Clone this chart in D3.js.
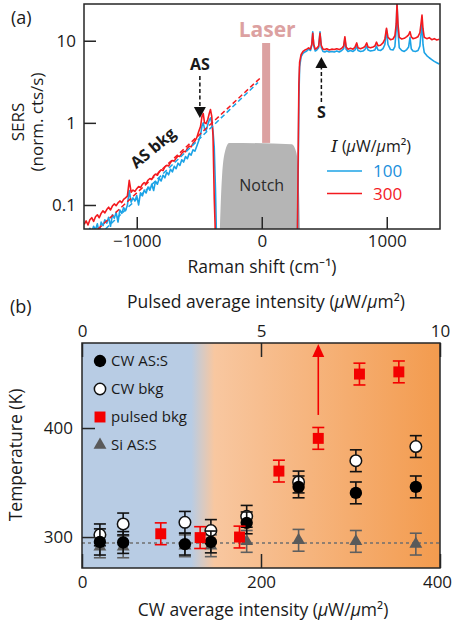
<!DOCTYPE html>
<html lang="en">
<head>
<meta charset="UTF-8">
<script src="https://d3js.org/d3.v7.min.js"></script>
<title>SERS temperature</title>
<style>
    body { margin: 0; background: #fff; }
    svg text { font-family: "Open Sans", sans-serif; fill: #1a1a1a; }
</style>
</head>
<body>
<div id="app"></div>
<script>
// ---------- panel (a): spectra ----------
const asShift = [-1420,-1405,-1390,-1375,-1360,-1345,-1330,-1315,-1300,-1285,-1270,-1255,-1240,-1225,-1210,-1195,-1180,-1165,-1150,-1135,
    -1120,-1105,-1090,-1075,-1060,-1045,-1030,-1015,-1000,-985,-970,-955,-940,-925,-910,-895,-880,-865,-850,-835,
    -820,-805,-790,-775,-760,-745,-730,-715,-700,-685,-670,-655,-640,-625,-610,-595,-580,-565,-550,-535,
    -520,-505,-490,-478,-468,-458,-445,-432,-420,-410,-400,-390,-380,-370,-362];
const asRed = [0.058,0.064,0.057,0.066,0.070,0.063,0.072,0.076,0.070,0.079,0.085,0.080,0.088,0.094,0.087,0.097,0.103,0.098,0.106,0.112,
    0.107,0.117,0.122,0.128,0.200,0.143,0.152,0.146,0.158,0.168,0.163,0.178,0.187,0.182,0.200,0.210,0.205,0.226,0.238,0.230,
    0.255,0.268,0.262,0.290,0.305,0.298,0.330,0.348,0.342,0.372,0.396,0.390,0.426,0.450,0.444,0.490,0.520,0.510,0.560,0.600,
    0.660,0.780,0.90,1.20,1.30,1.00,0.98,1.10,1.30,1.45,1.20,0.70,0.12,0.04,0.03];
const asBlue = [0.042,0.046,0.044,0.052,0.047,0.055,0.050,0.059,0.045,0.062,0.056,0.066,0.060,0.071,0.055,0.076,0.069,0.081,0.062,0.087,
    0.079,0.093,0.085,0.099,0.150,0.108,0.122,0.112,0.130,0.100,0.141,0.129,0.152,0.140,0.165,0.151,0.179,0.150,0.195,0.179,
    0.212,0.196,0.230,0.214,0.250,0.233,0.272,0.253,0.296,0.277,0.323,0.303,0.355,0.333,0.388,0.367,0.425,0.405,0.470,0.452,
    0.520,0.600,0.70,0.92,1.00,0.85,0.80,0.95,1.08,1.15,1.00,0.80,0.50,0.15,0.04];

const stShift = [285,292,297,303,315,330,345,360,375,390,400,408,416,428,440,455,466,476,490,505,
    520,540,560,580,600,620,640,655,665,675,690,710,730,745,760,770,790,810,825,840,
    850,870,890,905,918,930,950,970,985,998,1010,1030,1050,1065,1076,1082,1090,1100,1120,1140,
    1160,1175,1186,1196,1210,1230,1250,1265,1276,1282,1290,1300,1320,1340,1360,1380,1400,1420];
const stRed = [0.04,0.5,3.0,5.5,6.8,7.4,7.7,7.9,8.2,7.9,9.0,12.3,9.0,7.9,8.1,8.6,12.3,8.8,7.9,7.8,
    8.0,7.7,7.9,7.8,8.0,7.8,8.1,8.6,11.2,8.4,7.9,8.1,7.9,8.3,9.4,8.2,8.0,8.2,8.5,9.4,
    8.4,8.2,8.4,8.6,9.6,8.7,8.8,9.4,10.5,14.2,11.0,10.3,10.5,11.5,16,28,16,11,10.5,10.7,
    11.2,11.8,12.9,11.2,10.6,10.8,11.2,12.5,17,20.5,14,11,10.6,10.9,10.3,10.6,10.2,10.4];
const stBlue = [0.03,0.3,2.0,4.8,6.4,7.0,7.3,7.5,7.9,7.6,8.8,12.8,8.6,7.5,7.7,8.2,12.8,8.3,7.4,7.3,
    7.5,7.3,7.4,7.3,7.5,7.3,7.6,8.0,10.6,7.9,7.4,7.6,7.4,7.7,8.6,7.6,7.4,7.5,7.8,8.6,
    7.7,7.5,7.6,7.7,8.6,7.7,7.6,8.0,9.0,13.5,9.0,7.8,7.7,8.5,14,30,13,8.2,7.6,7.4,
    7.8,8.4,11.0,8.0,7.5,7.4,7.6,8.6,13,17,9,7.2,6.6,6.2,5.9,5.6,5.4,5.2];

// exponential AS background fits (end points)
const fitRedShift = [-1310, -5];
const fitRedCounts = [0.051, 3.6];
const fitBlueShift = [-1250, -30];
const fitBlueCounts = [0.051, 3.1];

// notch filter outline
const notchShift = [-335, -318, -292, -262, 240, 276, 294, 306];
const notchLevel = [0.051, 0.22, 0.46, 0.57, 0.55, 0.44, 0.22, 0.051];

const laserShift = 35;
const asPeakShift = -495;
const sPeakShift = 477;

const ramanTicks = [-1000, 0, 1000];
const sersTicks = [0.1, 1, 10];
const intensities = ['100', '300'];

// ---------- panel (b): temperatures ----------
const cwIntensity = [20, 46, 115, 144, 184, 242, 306, 373];
const cwAsS = [295.5, 295, 293.5, 295.5, 313, 346, 340.5, 346];
const cwAsSErr = [12, 10, 10, 10, 10, 10, 10, 10];
const cwBkg = [302, 312, 313.5, 306, 319, 350.5, 370, 383];
const cwBkgErr = [10, 10, 10, 10, 10, 10, 10, 10];
const siAsS = [291, 291, 292, 292, 296, 297, 296, 293.5];
const siAsSErr = [10, 10, 10, 10, 10, 10, 10, 10];
const pulsedIntensity = [2.2, 3.3, 4.4, 5.5, 6.6, 7.75, 8.85];
const pulsedBkg = [303, 299.5, 300, 360.5, 390.5, 449.5, 451.5];
const pulsedBkgErr = [10, 10, 10, 10, 10, 10, 10];
const pulsedArrowFrom = 412;
const roomTemp = 294.5;

const cwTicks = [0, 200, 400];
const pulsedTicks = [0, 5, 10];
const tempTicks = [300, 400];

const RED = '#f31a1f';
const BLUE = '#1ca3e6';
const INK = '#262626';

const svg = d3.select('#app').append('svg')
    .attr('width', 453)
    .attr('height', 628);

// ================= panel (a) =================
const xA = d3.scaleLinear().domain([-1422, 1426]).range([84, 440]);
const yA = d3.scaleLog().domain([0.051, 28]).range([229, 4]);

svg.append('clipPath').attr('id', 'clipA')
    .append('rect').attr('x', 84).attr('y', 4).attr('width', 356).attr('height', 225);

const gA = svg.append('g').attr('clip-path', 'url(#clipA)');

// notch
gA.append('path')
    .datum(d3.zip(notchShift, notchLevel))
    .attr('d', d3.line().x(d => xA(d[0])).y(d => yA(d[1])).curve(d3.curveMonotoneX))
    .attr('fill', '#b5b5b5');

function drawSpec(xs, ys, color) {
    gA.append('path')
        .datum(d3.zip(xs, ys))
        .attr('d', d3.line().x(d => xA(d[0])).y(d => yA(d[1])))
        .attr('fill', 'none')
        .attr('stroke', color)
        .attr('stroke-width', 1.6)
        .attr('stroke-linejoin', 'round');
}
drawSpec(asShift, asBlue, BLUE);
drawSpec(stShift, stBlue, BLUE);
drawSpec(asShift, asRed, RED);
drawSpec(stShift, stRed, RED);

function drawFit(xs, ys, color) {
    gA.append('path')
        .datum(d3.zip(xs, ys))
        .attr('d', d3.line().x(d => xA(d[0])).y(d => yA(d[1])))
        .attr('fill', 'none')
        .attr('stroke', color)
        .attr('stroke-width', 1.5)
        .attr('stroke-dasharray', '5,3');
}
drawFit(fitBlueShift, fitBlueCounts, BLUE);
drawFit(fitRedShift, fitRedCounts, RED);

// laser line
svg.append('rect')
    .attr('x', xA(laserShift) - 4).attr('y', 43)
    .attr('width', 8).attr('height', yA(0.57) - 43)
    .attr('fill', '#dca1a1');
svg.append('text')
    .attr('x', xA(laserShift) + 1).attr('y', 37)
    .attr('text-anchor', 'middle')
    .style('font-size', '21px').style('font-weight', 'bold')
    .style('fill', '#dca1a1')
    .text('Laser');

svg.append('text')
    .attr('x', xA(0)).attr('y', 191)
    .attr('text-anchor', 'middle')
    .style('font-size', '16px').style('fill', '#2b2b2b')
    .text('Notch');

// annotations
function dashedArrow(x, y0, y1) {
    const dir = y1 > y0 ? 1 : -1;
    svg.append('line')
        .attr('x1', x).attr('x2', x)
        .attr('y1', y0).attr('y2', y1 - dir * 10)
        .attr('stroke', '#111').attr('stroke-width', 1.5)
        .attr('stroke-dasharray', '4,2.5');
    svg.append('path')
        .attr('d', 'M' + (x - 6) + ',' + (y1 - dir * 11) + 'L' + (x + 6) + ',' + (y1 - dir * 11) + 'L' + x + ',' + y1 + 'Z')
        .attr('fill', '#111');
}
svg.append('text').attr('x', xA(asPeakShift)).attr('y', 70)
    .attr('text-anchor', 'middle')
    .style('font-size', '16px').style('font-weight', 'bold')
    .text('AS');
dashedArrow(xA(asPeakShift), 76, 118);

svg.append('text').attr('x', xA(sPeakShift)).attr('y', 118)
    .attr('text-anchor', 'middle')
    .style('font-size', '16px').style('font-weight', 'bold')
    .text('S');
dashedArrow(xA(sPeakShift), 102, 57);

svg.append('text')
    .attr('transform', 'translate(153,148) rotate(-40)')
    .attr('text-anchor', 'middle').attr('dy', '0.35em')
    .style('font-size', '16px').style('font-weight', 'bold')
    .text('AS bkg');

// legend (a)
const legA = svg.append('text').attr('x', 331).attr('y', 152).style('font-size', '16px');
legA.append('tspan').style('font-family', '"DejaVu Serif", serif').style('font-style', 'italic').style('font-size', '17px').text('I');
legA.append('tspan').text(' (');
legA.append('tspan').style('font-style', 'italic').text('μ');
legA.append('tspan').text('W/');
legA.append('tspan').style('font-style', 'italic').text('μ');
legA.append('tspan').text('m²)');

[BLUE, RED].forEach(function (c, i) {
    const y = 171 + i * 22.5;
    svg.append('line').attr('x1', 327).attr('x2', 362)
        .attr('y1', y).attr('y2', y)
        .attr('stroke', c).attr('stroke-width', 1.6);
    svg.append('text').attr('x', 373).attr('y', y).attr('dy', '0.36em')
        .style('font-size', '17px').style('fill', i === 0 ? '#1b8fdc' : RED)
        .text(intensities[i]);
});

// axes (a)
function styleAxis(g, size) {
    g.select('.domain').remove();
    g.selectAll('line').attr('stroke', INK).attr('stroke-width', 1.5);
    g.selectAll('text').style('font-size', size).style('fill', '#1a1a1a')
        .style('font-family', '"Open Sans", sans-serif');
}

svg.append('g')
    .attr('transform', 'translate(84,0)')
    .call(d3.axisLeft(yA).tickValues(sersTicks).tickFormat(d => d).tickSize(-12).tickPadding(8))
    .call(g => styleAxis(g, '17px'));

svg.append('g')
    .attr('transform', 'translate(0,229)')
    .call(d3.axisBottom(xA).tickValues(ramanTicks).tickFormat(d3.format('d')).tickSize(-12).tickPadding(6))
    .call(g => styleAxis(g, '17px'));

svg.append('rect')
    .attr('x', 84).attr('y', 4).attr('width', 356).attr('height', 225)
    .attr('fill', 'none').attr('stroke', INK).attr('stroke-width', 1.5);

svg.append('text').attr('x', 11).attr('y', 24).style('font-size', '18px').text('(a)');

svg.append('text')
    .attr('transform', 'translate(24,122) rotate(-90)')
    .attr('text-anchor', 'middle')
    .style('font-size', '17px')
    .text('SERS');
svg.append('text')
    .attr('transform', 'translate(43,122) rotate(-90)')
    .attr('text-anchor', 'middle')
    .style('font-size', '17px')
    .text('(norm. cts/s)');

svg.append('text')
    .attr('x', 262).attr('y', 273)
    .attr('text-anchor', 'middle')
    .style('font-size', '17.5px')
    .text('Raman shift (cm⁻¹)');

// ================= panel (b) =================
const xB = d3.scaleLinear().domain([0, 400]).range([82, 440]);
const xP = d3.scaleLinear().domain([0, 10]).range([82, 440]);
const yB = d3.scaleLinear().domain([271.6, 478]).range([568, 343]);

const defs = svg.append('defs');
const grad = defs.append('linearGradient').attr('id', 'bgGrad')
    .attr('x1', '0%').attr('x2', '100%').attr('y1', '0%').attr('y2', '0%');
grad.append('stop').attr('offset', '0%').attr('stop-color', '#b8cce4');
grad.append('stop').attr('offset', '30.5%').attr('stop-color', '#b8cce4');
grad.append('stop').attr('offset', '37%').attr('stop-color', '#f8c7a0');
grad.append('stop').attr('offset', '100%').attr('stop-color', '#f39b4e');

svg.append('rect')
    .attr('x', 82).attr('y', 343).attr('width', 358).attr('height', 225)
    .attr('fill', 'url(#bgGrad)');

svg.append('line')
    .attr('x1', 82).attr('x2', 440)
    .attr('y1', yB(roomTemp)).attr('y2', yB(roomTemp))
    .attr('stroke', '#6f6f6f').attr('stroke-width', 1.6)
    .attr('stroke-dasharray', '3,3');

const gB = svg.append('g');

function errorBars(xs, ys, errs, xScale, color) {
    const g = gB.append('g').attr('stroke', color).attr('stroke-width', 1.6);
    xs.forEach(function (x, i) {
        const px = xScale(x);
        g.append('line').attr('x1', px).attr('x2', px)
            .attr('y1', yB(ys[i] - errs[i])).attr('y2', yB(ys[i] + errs[i]));
        [ys[i] - errs[i], ys[i] + errs[i]].forEach(function (v) {
            g.append('line').attr('x1', px - 6).attr('x2', px + 6)
                .attr('y1', yB(v)).attr('y2', yB(v));
        });
    });
}

function markers(xs, ys, xScale, type, size, fill, stroke) {
    gB.append('g').selectAll('path')
        .data(d3.zip(xs, ys))
        .enter()
        .append('path')
        .attr('transform', d => 'translate(' + xScale(d[0]) + ',' + yB(d[1]) + ')')
        .attr('d', d3.symbol().type(type).size(size))
        .attr('fill', fill)
        .attr('stroke', stroke)
        .attr('stroke-width', 1.5);
}

// Si AS:S
errorBars(cwIntensity, siAsS, siAsSErr, xB, '#5f5f5f');
markers(cwIntensity, siAsS, xB, d3.symbolTriangle, 72, '#5a5a5a', 'none');
// CW bkg
errorBars(cwIntensity, cwBkg, cwBkgErr, xB, '#111');
markers(cwIntensity, cwBkg, xB, d3.symbolCircle, 105, '#fff', '#111');
// CW AS:S
errorBars(cwIntensity, cwAsS, cwAsSErr, xB, '#111');
markers(cwIntensity, cwAsS, xB, d3.symbolCircle, 120, '#000', 'none');
// pulsed bkg
errorBars(pulsedIntensity, pulsedBkg, pulsedBkgErr, xP, '#f40000');
markers(pulsedIntensity, pulsedBkg, xP, d3.symbolSquare, 120, '#f40000', 'none');

// pulsed lower-bound arrow
const arrowX = xP(pulsedIntensity[4]);
svg.append('line')
    .attr('x1', arrowX).attr('x2', arrowX)
    .attr('y1', yB(pulsedArrowFrom)).attr('y2', 355)
    .attr('stroke', '#f40000').attr('stroke-width', 1.6);
svg.append('path')
    .attr('d', 'M' + (arrowX - 6) + ',357L' + (arrowX + 6) + ',357L' + arrowX + ',344Z')
    .attr('fill', '#f40000');

// legend (b)
const legItems = [
    { label: 'CW AS:S', type: d3.symbolCircle, size: 120, fill: '#000', stroke: 'none' },
    { label: 'CW bkg', type: d3.symbolCircle, size: 100, fill: '#fff', stroke: '#111' },
    { label: 'pulsed bkg', type: d3.symbolSquare, size: 120, fill: '#f40000', stroke: 'none' },
    { label: 'Si AS:S', type: d3.symbolTriangle, size: 72, fill: '#5a5a5a', stroke: 'none' }
];
legItems.forEach(function (it, i) {
    const y = 361 + i * 28;
    svg.append('path')
        .attr('transform', 'translate(100,' + y + ')')
        .attr('d', d3.symbol().type(it.type).size(it.size))
        .attr('fill', it.fill).attr('stroke', it.stroke).attr('stroke-width', 1.5);
    svg.append('text').attr('x', 111).attr('y', y).attr('dy', '0.35em')
        .style('font-size', '15px')
        .text(it.label);
});

// axes (b)
svg.append('g')
    .attr('transform', 'translate(82,0)')
    .call(d3.axisLeft(yB).tickValues(tempTicks).tickSize(-13).tickPadding(9))
    .call(g => styleAxis(g, '17px'));
svg.append('g')
    .attr('transform', 'translate(0,568)')
    .call(d3.axisBottom(xB).tickValues(cwTicks).tickSize(-14).tickPadding(8))
    .call(g => styleAxis(g, '17px'))
    .call(g => g.selectAll('text').filter(d => d === 400).attr('dx', -3));
svg.append('g')
    .attr('transform', 'translate(0,343)')
    .call(d3.axisTop(xP).tickValues(pulsedTicks).tickSize(-14).tickPadding(6))
    .call(g => styleAxis(g, '17px'));

svg.append('rect')
    .attr('x', 82).attr('y', 343).attr('width', 358).attr('height', 225)
    .attr('fill', 'none').attr('stroke', INK).attr('stroke-width', 1.5);

svg.append('text').attr('x', 10).attr('y', 313).style('font-size', '18px').text('(b)');

function unitTitle(t, main) {
    t.append('tspan').text(main + ' (');
    t.append('tspan').style('font-style', 'italic').text('μ');
    t.append('tspan').text('W/');
    t.append('tspan').style('font-style', 'italic').text('μ');
    t.append('tspan').text('m²)');
}
unitTitle(svg.append('text').attr('x', 266).attr('y', 308)
    .attr('text-anchor', 'middle').style('font-size', '17.5px'), 'Pulsed average intensity');
unitTitle(svg.append('text').attr('x', 263).attr('y', 616)
    .attr('text-anchor', 'middle').style('font-size', '17.5px'), 'CW average intensity');

svg.append('text')
    .attr('transform', 'translate(22,455) rotate(-90)')
    .attr('text-anchor', 'middle')
    .style('font-size', '17.5px')
    .text('Temperature (K)');
</script>
</body>
</html>
